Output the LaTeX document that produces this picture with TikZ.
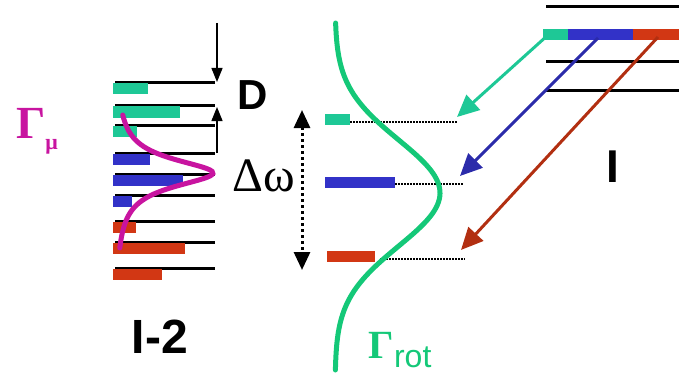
\documentclass[tikz,border=0pt]{standalone}
\usepackage{fontspec}
\setmainfont{Liberation Sans}
\newfontfamily\serifgr{Liberation Serif}
\usetikzlibrary{arrows.meta}
\definecolor{tealbar}{RGB}{30,200,150}
\definecolor{bluebar}{RGB}{50,50,200}
\definecolor{redbar}{RGB}{210,55,20}
\definecolor{magcurve}{RGB}{200,20,160}
\definecolor{greencurve}{RGB}{20,200,120}
\tikzset{
  level/.style={line width=3pt},
  bar/.style={line width=11pt},
  trans/.style={line width=3pt,-{Triangle[length=22pt,width=20pt]}},
  gap/.style={line width=1.3pt,-{Triangle[length=14pt,width=11pt]}},
  guide/.style={line width=1.3pt,dash pattern=on 1.5pt off 1.5pt},
  lab/.style={inner sep=0pt}
}
\begin{document}
\begin{tikzpicture}[x=1pt,y=-1pt]
\useasboundingbox (0,0) rectangle (679,377);
\foreach \y in {83,106,125,153,174,195,221,242,268}
  \draw[level] (115,\y) -- (215,\y);
\foreach \y/\e/\c in {83/148/tealbar,106/180/tealbar,125/137/tealbar,
  153/150/bluebar,174/183/bluebar,195/132/bluebar,
  221/136/redbar,242/185/redbar,268/162/redbar}
  \draw[bar,\c] (113,\y+6) -- (\e,\y+6);
\draw[magcurve,line width=5pt,line cap=round,smooth,samples=60,domain=115:248]
  plot ({115+98/(1+((\x-173)/17)^2)},\x);
\foreach \y in {7,62,91}
  \draw[level] (546,\y) -- (679,\y);
\draw[bar,tealbar] (543,35) -- (568,35);
\draw[bar,bluebar] (568,35) -- (633,35);
\draw[bar,redbar] (633,35) -- (679,35);
\draw[bar,tealbar] (325,119) -- (350,119);
\draw[bar,bluebar] (325,182) -- (395,182);
\draw[bar,redbar] (327,256) -- (375,256);
\draw[guide] (350,122) -- (457,122);
\draw[guide] (395,184) -- (463,184);
\draw[guide] (380,259) -- (465,259);
\draw[greencurve,line width=5pt,line cap=round,smooth,samples=60,domain=23:370]
  plot ({335+105*exp(-((\x-193)/75)^2)},\x);
\coordinate (gtop) at (217,23);
\coordinate (gmid) at (217,82);
\coordinate (gbot) at (217,153);
\coordinate (gup) at (217,107);
\draw[gap] (gtop) -- (gmid);
\draw[gap] (gbot) -- (gup);
\coordinate (dwtop) at (302,110);
\coordinate (dwbot) at (302,270);
\draw[line width=3pt,dash pattern=on 3pt off 3pt,
  {Triangle[length=18pt,width=16pt]}-{Triangle[length=18pt,width=16pt]}] (dwtop) -- (dwbot);
\coordinate (gsrc) at (548,35);
\coordinate (bsrc) at (598,38);
\coordinate (rsrc) at (658,37);
\coordinate (gdst) at (457,117);
\coordinate (bdst) at (460,176);
\coordinate (rdst) at (461,250);
\draw[trans,tealbar] (gsrc) -- (gdst);
\draw[trans,bluebar!85!black] (bsrc) -- (bdst);
\draw[trans,redbar!85!black] (rsrc) -- (rdst);
\node[lab,magcurve] (gmu) at (37,131) {\serifgr\bfseries\fontsize{46}{46}\selectfont Γ\raisebox{-11pt}{\fontsize{22}{22}\selectfont μ}};
\node[lab,font=\bfseries] (dlab) at (253,95) {\fontsize{42}{42}\selectfont D};
\node[lab] (dw) at (264,176) {\serifgr\fontsize{48}{48}\selectfont Δω};
\node[lab,font=\bfseries] (ilab) at (613,167) {\fontsize{46}{46}\selectfont I};
\node[lab,font=\bfseries] (i2lab) at (160,337) {\fontsize{48}{48}\selectfont I-2};
\node[lab,greencurve] (grot) at (400,350) {\serifgr\bfseries\fontsize{40}{40}\selectfont Γ\raisebox{-9pt}{\normalfont\fontsize{32}{32}\selectfont rot}};
\end{tikzpicture}
\end{document}
